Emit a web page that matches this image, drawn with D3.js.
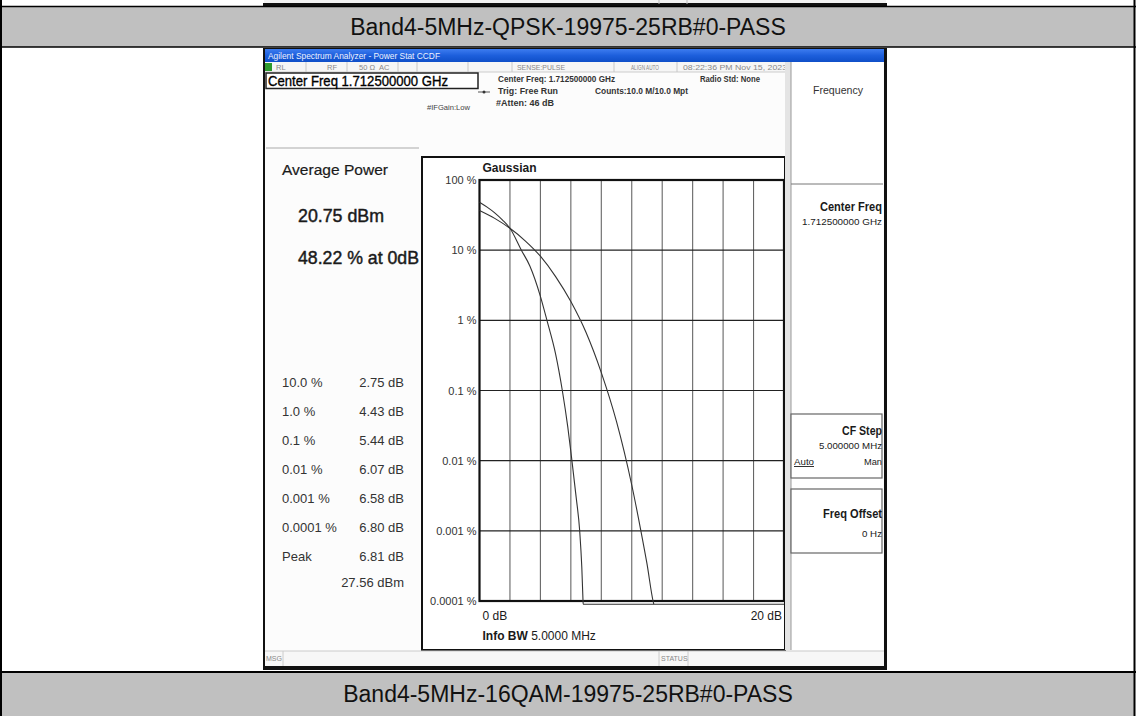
<!DOCTYPE html>
<html><head><meta charset="utf-8">
<script src="https://cdn.jsdelivr.net/npm/d3@7"></script>
<style>
body{margin:0;background:#fff}
svg{display:block;font-family:"Liberation Sans",Arial,sans-serif}
</style>
</head><body><svg id="c" width="1136" height="716"></svg>
<script>
// ---------- data ----------
const bandTitles = ["Band4-5MHz-QPSK-19975-25RB#0-PASS", "Band4-5MHz-16QAM-19975-25RB#0-PASS"];
const yTickValues = [100, 10, 1, 0.1, 0.01, 0.001, 0.0001];
const yTickLabels = ["100 %", "10 %", "1 %", "0.1 %", "0.01 %", "0.001 %", "0.0001 %"];
const xGridValues = [0, 2, 4, 6, 8, 10, 12, 14, 16, 18, 20];
const xEndLabels = ["0 dB", "20 dB"];
const measuredDb  = [0, 0.5, 1, 1.5, 2, 2.75, 3.3, 4.0, 4.43, 5.0, 5.44, 5.8, 6.07, 6.35, 6.58, 6.72, 6.80, 6.81, 20];
const measuredPct = [48.22, 41, 34, 27, 20.5, 10, 6, 2.2, 1, 0.33, 0.1, 0.03, 0.01, 0.003, 0.001, 0.0003, 0.0001, 0.00009, 0.00009];
const gaussDb  = [0, 1, 2, 3, 4, 5, 6, 7, 8, 9, 10, 10.6, 11.0, 11.4, 11.45];
const gaussPct = [36.8, 28.4, 20.5, 13.6, 8.2, 4.2, 1.85, 0.67, 0.18, 0.036, 0.0045, 0.001, 0.00034, 0.0001, 0.00009];
const statLabels = ["10.0 %", "1.0 %", "0.1 %", "0.01 %", "0.001 %", "0.0001 %", "Peak"];
const statValues = ["2.75 dB", "4.43 dB", "5.44 dB", "6.07 dB", "6.58 dB", "6.80 dB", "6.81 dB"];
const peakPower = "27.56 dBm";
const avgPower = "20.75 dBm";
const atZero = "48.22 % at 0dB";

// ---------- drawing ----------
const svg = d3.select("#c");
const ink = "#1a1a1a";

// table bands
svg.append("rect").attr("x", 1).attr("y", 7).attr("width", 1133).attr("height", 40).attr("fill", "#c0c0c0");
svg.append("rect").attr("x", 1).attr("y", 673).attr("width", 1133).attr("height", 43).attr("fill", "#c0c0c0");
svg.append("text").attr("x", 568).attr("y", 35).attr("text-anchor", "middle")
  .attr("font-size", 23).attr("fill", "#111").text(bandTitles[0]);
svg.append("text").attr("x", 568).attr("y", 702).attr("text-anchor", "middle")
  .attr("font-size", 23).attr("fill", "#111").text(bandTitles[1]);

// previous screenshot remnant at top
svg.append("rect").attr("x", 264).attr("y", 0).attr("width", 622).attr("height", 4).attr("fill", "#f2f2f2");
svg.append("line").attr("x1", 263).attr("x2", 887).attr("y1", 4.5).attr("y2", 4.5).attr("stroke", "#111").attr("stroke-width", 3);
[659, 687].forEach(x => svg.append("line").attr("x1", x).attr("x2", x).attr("y1", 0).attr("y2", 4).attr("stroke", "#bbb"));

// table lines
const tl = (x1, y1, x2, y2, w) => svg.append("line").attr("x1", x1).attr("y1", y1).attr("x2", x2).attr("y2", y2).attr("stroke", "#000").attr("stroke-width", w);
tl(0, 6.5, 1136, 6.5, 1.5);
tl(0, 47, 1136, 47, 1.5);
tl(0, 672, 1136, 672, 2);
tl(1, 0, 1, 716, 2);
tl(1134.5, 0, 1134.5, 716, 2);

// ---------- screenshot ----------
const ss = svg.append("g");
ss.append("rect").attr("x", 263).attr("y", 48).attr("width", 624).attr("height", 622).attr("fill", "#111");
ss.append("rect").attr("x", 265).attr("y", 49).attr("width", 619).attr("height", 617).attr("fill", "#fcfcfc");

const grad = svg.append("defs").append("linearGradient").attr("id", "tb").attr("x1", 0).attr("x2", 0).attr("y1", 0).attr("y2", 1);
grad.append("stop").attr("offset", "0").attr("stop-color", "#3d7cf0");
grad.append("stop").attr("offset", "0.5").attr("stop-color", "#1d5fdc");
grad.append("stop").attr("offset", "1").attr("stop-color", "#0f4fc8");
ss.append("rect").attr("x", 265).attr("y", 49).attr("width", 619).attr("height", 13).attr("fill", "url(#tb)");
ss.append("text").attr("x", 268).attr("y", 59).attr("font-size", 8.5).attr("fill", "#eef2ff")
  .attr("textLength", 172).attr("lengthAdjust", "spacingAndGlyphs").text("Agilent Spectrum Analyzer - Power Stat CCDF");

// status row
ss.append("rect").attr("x", 265).attr("y", 62).attr("width", 525).attr("height", 10).attr("fill", "#f6f6f6");
ss.append("line").attr("x1", 265).attr("x2", 790).attr("y1", 72).attr("y2", 72).attr("stroke", "#ccc");
ss.append("rect").attr("x", 265).attr("y", 63).attr("width", 7).attr("height", 8).attr("fill", "#2d9a2d");
[306, 347, 398, 417, 468, 512, 614, 677].forEach(x =>
  ss.append("line").attr("x1", x).attr("x2", x).attr("y1", 62).attr("y2", 72).attr("stroke", "#c8c8c8"));
const st = (x, t, len) => {
  const e = ss.append("text").attr("x", x).attr("y", 69.5).attr("font-size", 7.5).attr("fill", "#888").text(t);
  if (len) e.attr("textLength", len).attr("lengthAdjust", "spacingAndGlyphs");
};
st(276, "RL"); st(327, "RF"); st(359, "50 Ω"); st(379, "AC");
st(517, "SENSE:PULSE", 48); st(631, "ALIGN AUTO", 28); st(683, "08:22:36 PM Nov 15, 2023", 104);

// center freq box
ss.append("rect").attr("x", 266).attr("y", 73).attr("width", 212).attr("height", 15.5).attr("fill", "#fff").attr("stroke", "#222").attr("stroke-width", 1.5);
ss.append("text").attr("x", 268).attr("y", 86).attr("font-size", 15).attr("fill", "#000")
  .attr("stroke", "#000").attr("stroke-width", 0.35)
  .attr("textLength", 180).attr("lengthAdjust", "spacingAndGlyphs").text("Center Freq 1.712500000 GHz");

const info = (x, y, t, len) => ss.append("text").attr("x", x).attr("y", y).attr("font-size", 9).attr("font-weight", "bold").attr("fill", "#333")
  .attr("textLength", len).attr("lengthAdjust", "spacingAndGlyphs").text(t);
info(498, 82, "Center Freq: 1.712500000 GHz", 117);
info(498, 94, "Trig: Free Run", 60);
info(496, 106, "#Atten: 46 dB", 58);
info(595, 94, "Counts:10.0 M/10.0 Mpt", 93);
info(700, 82, "Radio Std: None", 60);
ss.append("text").attr("x", 427).attr("y", 110).attr("font-size", 8).attr("fill", "#444")
  .attr("textLength", 43).attr("lengthAdjust", "spacingAndGlyphs").text("#IFGain:Low");
ss.append("line").attr("x1", 478).attr("x2", 490).attr("y1", 92).attr("y2", 92).attr("stroke", "#555");
ss.append("circle").attr("cx", 484).attr("cy", 92).attr("r", 1.5).attr("fill", "#333");

// left panel
ss.append("line").attr("x1", 266).attr("x2", 419).attr("y1", 148).attr("y2", 148).attr("stroke", "#aaa");
const lp = (x, y, t, size, len, opts = {}) => {
  const e = ss.append("text").attr("x", x).attr("y", y).attr("font-size", size).attr("fill", opts.fill || ink)
    .attr("text-anchor", opts.anchor || "start").text(t);
  if (len) e.attr("textLength", len).attr("lengthAdjust", "spacingAndGlyphs");
  if (opts.heavy) e.attr("stroke", opts.fill || ink).attr("stroke-width", opts.heavy);
  return e;
};
lp(282, 175, "Average Power", 15, 106, {heavy: 0.2});
lp(298, 222, avgPower, 18, 86, {heavy: 0.45});
lp(298, 264, atZero, 18, 121, {heavy: 0.45});
statLabels.forEach((t, i) => {
  const y = 387 + i * 29;
  lp(282, y, t, 13, null, {fill: "#333"});
  lp(404, y, statValues[i], 13, null, {fill: "#333", anchor: "end"});
});
lp(404, 587, peakPower, 13, null, {fill: "#333", anchor: "end"});

// plot frame
ss.append("rect").attr("x", 422).attr("y", 157).attr("width", 363).attr("height", 493).attr("fill", "#fff").attr("stroke", "#111").attr("stroke-width", 2);

// scales
const x = d3.scaleLinear().domain([0, 20]).range([479.5, 784]);
const y = d3.scaleLog().domain([0.0001, 100]).range([601, 180]);

const plot = ss.append("g");
// vertical grid
plot.selectAll("line.vg").data(xGridValues.slice(1, -1)).join("line").attr("class", "vg")
  .attr("x1", d => x(d)).attr("x2", d => x(d)).attr("y1", y(100)).attr("y2", y(0.0001))
  .attr("stroke", "#666").attr("stroke-width", 1.1);
// horizontal grid
plot.selectAll("line.hg").data(yTickValues.slice(1, -1)).join("line").attr("class", "hg")
  .attr("x1", x(0)).attr("x2", x(20)).attr("y1", d => y(d)).attr("y2", d => y(d))
  .attr("stroke", "#222").attr("stroke-width", 1.2);
// border
plot.append("rect").attr("x", x(0)).attr("y", y(100)).attr("width", x(20) - x(0)).attr("height", y(0.0001) - y(100))
  .attr("fill", "none").attr("stroke", "#111").attr("stroke-width", 2.2);

// y axis labels
const yAxis = d3.axisLeft(y).tickValues(yTickValues).tickSize(0).tickPadding(3)
  .tickFormat((d, i) => yTickLabels[i]);
const ya = plot.append("g").attr("transform", `translate(${x(0)},0)`).call(yAxis);
ya.select(".domain").remove();
ya.selectAll("text").attr("font-size", 11).attr("fill", "#333").attr("font-family", "Liberation Sans, Arial, sans-serif");

// x labels
plot.append("text").attr("x", x(0) + 3).attr("y", 620).attr("font-size", 12).attr("fill", ink).text(xEndLabels[0]);
plot.append("text").attr("x", x(20) - 2).attr("y", 620).attr("font-size", 12).attr("fill", ink).attr("text-anchor", "end").text(xEndLabels[1]);
const ib = plot.append("text").attr("x", x(0) + 3).attr("y", 640).attr("font-size", 12).attr("fill", ink);
ib.append("tspan").attr("font-weight", "bold").text("Info BW ");
ib.append("tspan").text("5.0000 MHz");
plot.append("text").attr("x", x(0) + 3).attr("y", 172).attr("font-size", 12).attr("font-weight", "bold").attr("fill", ink).text("Gaussian");

// curves
const line = d3.line().x(d => x(d[0])).y(d => y(d[1])).curve(d3.curveMonotoneX);
const gaussData = gaussDb.map((d, i) => [d, gaussPct[i]]);
const measData = measuredDb.map((d, i) => [d, measuredPct[i]]);
plot.append("path").datum(gaussData).attr("d", line).attr("fill", "none").attr("stroke", "#333").attr("stroke-width", 1.1);
plot.append("path").datum(measData).attr("d", line).attr("fill", "none").attr("stroke", "#333").attr("stroke-width", 1.1);

// right softkey panel
ss.append("rect").attr("x", 785).attr("y", 62).attr("width", 6).attr("height", 588).attr("fill", "#e4e4e4");
ss.append("rect").attr("x", 791).attr("y", 62).attr("width", 92).attr("height", 588).attr("fill", "#fff");
ss.append("line").attr("x1", 791).attr("x2", 791).attr("y1", 62).attr("y2", 650).attr("stroke", "#999");
ss.append("line").attr("x1", 791).attr("x2", 883).attr("y1", 184).attr("y2", 184).attr("stroke", "#777");
ss.append("text").attr("x", 838).attr("y", 94).attr("text-anchor", "middle").attr("font-size", 11).attr("fill", "#333")
  .attr("textLength", 50).attr("lengthAdjust", "spacingAndGlyphs").text("Frequency");
const key = (yTop, h) => ss.append("rect").attr("x", 791).attr("y", yTop).attr("width", 91).attr("height", h)
  .attr("fill", "#fff").attr("stroke", "#666").attr("stroke-width", 1.2);
key(414, 64); key(489, 64);
const kt = (xx, yy, t, size, bold, anchor, len) => {
  const e = ss.append("text").attr("x", xx).attr("y", yy).attr("font-size", size).attr("fill", ink)
    .attr("text-anchor", anchor || "end").text(t);
  if (bold) e.attr("font-weight", "bold");
  if (len) e.attr("textLength", len).attr("lengthAdjust", "spacingAndGlyphs");
  return e;
};
kt(882, 211, "Center Freq", 12, true, "end", 62);
kt(882, 225, "1.712500000 GHz", 9, false, "end", 80);
kt(882, 435, "CF Step", 12, true, "end", 40);
kt(882, 449, "5.000000 MHz", 9, false, "end", 63);
kt(794, 465, "Auto", 9, false, "start", 20).attr("text-decoration", "underline");
kt(882, 465, "Man", 9, false, "end", 18);
kt(882, 518, "Freq Offset", 12, true, "end", 59);
kt(882, 537, "0 Hz", 9, false, "end", 20);

// bottom MSG row
ss.append("rect").attr("x", 265).attr("y", 651).attr("width", 619).attr("height", 15).attr("fill", "#f7f7f7");
ss.append("line").attr("x1", 265).attr("x2", 884).attr("y1", 651).attr("y2", 651).attr("stroke", "#ccc");
[283, 659, 688].forEach(xx => ss.append("line").attr("x1", xx).attr("x2", xx).attr("y1", 651).attr("y2", 666).attr("stroke", "#ccc"));
ss.append("text").attr("x", 266).attr("y", 661).attr("font-size", 7).attr("fill", "#888").text("MSG");
ss.append("text").attr("x", 661).attr("y", 661).attr("font-size", 7).attr("fill", "#888").text("STATUS");
</script>
</body></html>
